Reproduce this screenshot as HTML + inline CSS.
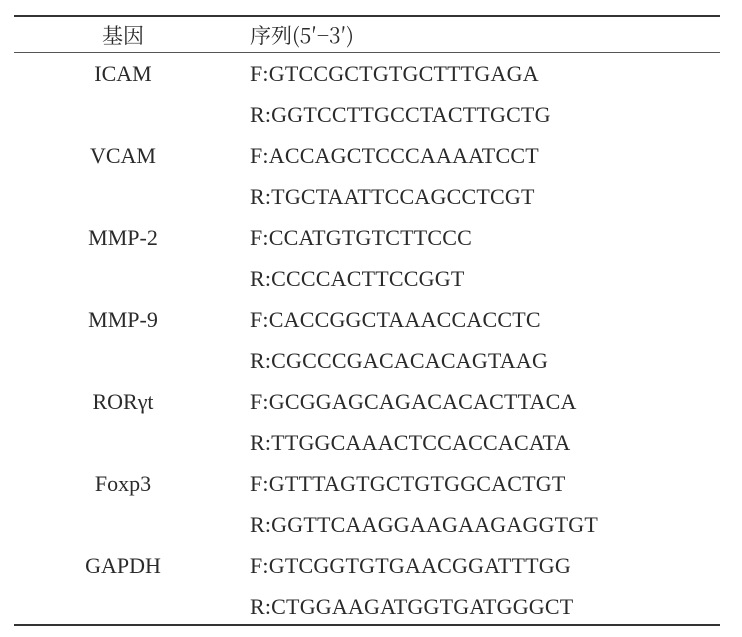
<!DOCTYPE html>
<html><head><meta charset="utf-8"><style>
body{margin:0;width:742px;height:637px;background:#fff;position:relative;overflow:hidden;font-family:"Liberation Serif","Noto Serif CJK SC",serif;color:#2a2a2a}
.l{position:absolute;left:14px;width:706px;background:#333}
.t{position:absolute;font-size:22px;line-height:22px;white-space:nowrap;letter-spacing:0.2px}
.g{left:23px;width:200px;text-align:center;letter-spacing:0}
.s{left:250px}
</style></head><body>
<div class="l" style="top:15px;height:2px"></div>
<div class="l" style="top:52px;height:1px;background:#555"></div>
<div class="l" style="top:624px;height:2px"></div>
<div class="t g" style="top:24px;font-size:21px;font-family:'Noto Serif CJK SC',serif;letter-spacing:0">基因</div>
<div class="t s" style="top:24px;font-size:21px;font-family:'Noto Serif CJK SC',serif;letter-spacing:0">序列(5′−3′)</div>
<div class="t g" style="top:63px">ICAM</div>
<div class="t s" style="top:63px">F:GTCCGCTGTGCTTTGAGA</div>
<div class="t s" style="top:104px">R:GGTCCTTGCCTACTTGCTG</div>
<div class="t g" style="top:145px">VCAM</div>
<div class="t s" style="top:145px">F:ACCAGCTCCCAAAATCCT</div>
<div class="t s" style="top:186px">R:TGCTAATTCCAGCCTCGT</div>
<div class="t g" style="top:227px">MMP-2</div>
<div class="t s" style="top:227px">F:CCATGTGTCTTCCC</div>
<div class="t s" style="top:268px">R:CCCCACTTCCGGT</div>
<div class="t g" style="top:309px">MMP-9</div>
<div class="t s" style="top:309px">F:CACCGGCTAAACCACCTC</div>
<div class="t s" style="top:350px">R:CGCCCGACACACAGTAAG</div>
<div class="t g" style="top:391px">RORγt</div>
<div class="t s" style="top:391px">F:GCGGAGCAGACACACTTACA</div>
<div class="t s" style="top:432px">R:TTGGCAAACTCCACCACATA</div>
<div class="t g" style="top:473px">Foxp3</div>
<div class="t s" style="top:473px">F:GTTTAGTGCTGTGGCACTGT</div>
<div class="t s" style="top:514px">R:GGTTCAAGGAAGAAGAGGTGT</div>
<div class="t g" style="top:555px">GAPDH</div>
<div class="t s" style="top:555px">F:GTCGGTGTGAACGGATTTGG</div>
<div class="t s" style="top:596px">R:CTGGAAGATGGTGATGGGCT</div>
</body></html>
